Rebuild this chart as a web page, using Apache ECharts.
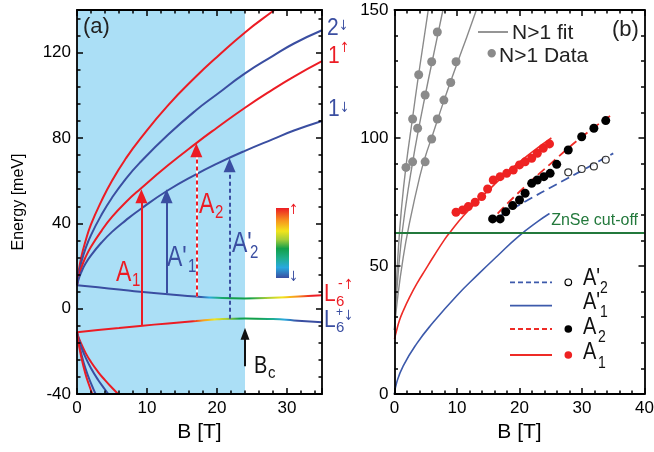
<!DOCTYPE html>
<html>
<head>
<meta charset="utf-8">
<script src="https://cdn.jsdelivr.net/npm/echarts@6/dist/echarts.min.js"></script>
<style>
html, body { margin: 0; padding: 0; background: #fff; }
#chart { width: 654px; height: 452px; }
</style>
</head>
<body>
<div id="chart"></div>
<script>
// ---------- panel (a): levels vs B ----------
const bLL    = [0, 0.2, 0.6, 1.2, 2, 3.5, 5, 7, 9, 13, 17, 20, 24, 28, 31, 35];
const e2Up   = [11, 16.5, 24, 31.5, 39.5, 50.5, 60, 70.5, 79.5, 95.3, 108.8, 118, 129.5, 139.5, 147, null];
const e2Down = [11, 15.5, 21.5, 28, 34.5, 44, 52, 61, 68.5, 81.5, 93, 100.5, 110.3, 118.5, 124.3, 130.5];
const e1Up   = [11, 14, 19, 24, 29, 36.5, 43, 50, 56, 67.2, 77.5, 84.8, 94.2, 102.8, 108.8, 116];
const e1Down = [11, 13.5, 17, 21, 25, 31, 36, 41.5, 46.5, 55.5, 63, 68, 74, 79.5, 83.5, 88];

// valence levels (go down steeply, leave the plot at -40)
const bVr1 = [0, 0.2, 0.6, 1.2, 1.8, 2.3];
const eVr1 = [-11, -15.5, -22.5, -30.5, -36.5, -41];
const bVb1 = [0, 0.2, 0.6, 1.2, 2, 2.8];
const eVb1 = [-11, -15, -21, -28, -35, -41];
const bVb2 = [0, 0.2, 0.6, 1.2, 2, 3, 4, 4.7];
const eVb2 = [-11, -13.7, -17.9, -22.7, -27.9, -33.3, -37.9, -41];
const bVr2 = [0, 0.2, 0.6, 1.2, 2, 3, 4, 5, 6];
const eVr2 = [-11, -13.2, -16.4, -20.6, -25, -29.6, -33.5, -37.1, -40.4];

// zero levels L6- / L6+
const bL6  = [0, 3, 6, 9, 13, 17, 20, 24, 28, 31, 35];
const eL6m = [11, 10, 9, 7.9, 6.8, 5.7, 5.1, 4.8, 5.1, 5.6, 6.3];
const eL6p = [-11, -10, -9.1, -8.1, -6.9, -5.8, -5, -4.6, -4.9, -5.5, -6.4];

// transitions A1, A'1, A2, A'2
const arrowB    = [9.2, 12.8, 17.05, 21.8];
const arrowFrom = [-7.8, 7.2, 5.7, -4.7];
const arrowTo   = [56, 56, 77.6, 70.5];
const shadeB    = [0, 24];
const bcFrom = -27, bcTo = -9;

// ---------- panel (b): transition energies ----------
const bFit1 = [0, 0.2, 0.6, 1.1, 1.84, 2.9, 3.87, 5.4];
const eFit1 = [25, 37, 56, 72, 89, 108, 125, 150];
const bFit2 = [0, 0.3, 1.0, 1.8, 2.9, 3.7, 4.9, 5.95, 6.85, 7.75];
const eFit2 = [25, 38, 58, 73.5, 90.5, 101.5, 116.5, 129, 139.5, 150];
const bFit3 = [0, 0.4, 1.4, 2.5, 4, 4.9, 6, 7.9, 9.9, 11.5, 13.1];
const eFit3 = [25, 35.5, 53.5, 68, 84.5, 92.5, 100.5, 114.5, 128.3, 139, 150];

const bN = [1.84, 2.9, 3.87, 2.9, 3.7, 4.9, 5.95, 6.85, 4.9, 5.95, 6.85, 7.9, 9.0, 9.85];
const eN = [88.5, 107.4, 124.7, 90.7, 103.8, 116.8, 129.8, 141.4, 90.7, 99.6, 107.4, 114.8, 121.7, 129.8];

const bA1 = [9.84, 10.9, 11.8, 12.9, 13.95, 14.9, 15.8, 16.9, 17.95, 19.0, 20.0, 20.9, 21.95, 22.85, 23.8, 24.8];
const eA1 = [71, 71.9, 73.2, 74.9, 77.1, 80.1, 83.6, 84.9, 86.2, 87.5, 89.5, 90.7, 92.1, 94.0, 96.0, 97.7];
const bA2 = [15.7, 16.9, 17.8, 18.9, 20.0, 20.9, 21.95, 22.85, 23.9, 24.9, 25.95, 27.8, 29.95, 31.9, 33.8];
const eA2 = [68.4, 68.4, 71.2, 73.6, 75.8, 78.4, 82.3, 83.6, 84.9, 86.2, 89.7, 95.3, 100.5, 103.8, 106.8];
const bA2p = [27.8, 29.95, 31.9, 33.8];
const eA2p = [86.6, 87.9, 88.9, 91.5];

const bFitA1 = [0, 0.3, 0.8, 1.4, 2.5, 3.6, 5, 6.2, 8, 8.9, 11, 13.7, 16.5, 19, 22, 25.1];
const eFitA1 = [21.5, 24.5, 28.8, 32.5, 38.2, 43.2, 48.8, 53.5, 60.3, 63.2, 69.5, 76.4, 83, 88.6, 94.5, 100];
const bFitA1p = [0, 0.35, 1.4, 3.5, 6.2, 10, 13.5, 16.5, 19.8, 23, 24.8];
const eFitA1p = [0, 4.5, 11, 19.5, 28, 38.5, 47, 54, 61.5, 67.5, 70.5];
const bFitA2 = [16.5, 20, 25, 30, 35];
const eFitA2 = [70.5, 79, 90, 100.5, 109.5];
const bFitA2p = [16.9, 21, 26, 30, 35];
const eFitA2p = [69.5, 75.3, 82, 87.3, 94];
const znseCut = 63;

// ---------- styling ----------
const FONT = '"Liberation Sans", Arial, Helvetica, sans-serif';
const RED = '#ec1c24', BLUE = '#3a4ea1', GRAY = '#8a8a8a', GREEN = '#23793c';
const RED_B = '#ee2b26', BLUE_B = '#3d5aab';
const headA = 3.3; // half arrow head, meV

const zip = (xs, ys) => xs.map((x, i) => [x, ys[i]]);

function curve(xs, ys, color, ax, extra) {
  return Object.assign({
    type: 'line', xAxisIndex: ax, yAxisIndex: ax,
    data: zip(xs, ys), symbol: 'none', smooth: 0.5,
    lineStyle: { color: color, width: 2 }, silent: true, z: 3
  }, extra || {});
}
function dots(xs, ys, color, size, extra) {
  return Object.assign({
    type: 'scatter', xAxisIndex: 2, yAxisIndex: 2, data: zip(xs, ys),
    symbolSize: size, itemStyle: { color: color, opacity: 1 }, silent: true, z: 5
  }, extra || {});
}
function hGrad(stops) {
  return { type: 'linear', x: 0, y: 0, x2: 1, y2: 0,
    colorStops: stops.map(s => ({ offset: s[0], color: s[1] })) };
}

const tickStyle = { color: '#000', width: 1.5 };
function xAx(grid, max, pos, name) {
  return {
    gridIndex: grid, type: 'value', min: 0, max: max, interval: 10, position: pos, z: 10,
    axisLine: { onZero: false, lineStyle: { color: '#000', width: 1.8 } },
    axisTick: { inside: true, length: 6, lineStyle: tickStyle },
    minorTick: { show: true, splitNumber: 5, length: 3.5, lineStyle: tickStyle },
    axisLabel: { show: pos === 'bottom', fontSize: 17, color: '#000', fontFamily: FONT, margin: 6, showMaxLabel: max === 40 },
    splitLine: { show: false },
    name: name, nameLocation: 'middle', nameGap: 24,
    nameTextStyle: { fontSize: 21, color: '#000', fontFamily: FONT }
  };
}
function yAx(grid, min, max, interval, pos, name) {
  return {
    gridIndex: grid, type: 'value', min: min, max: max, interval: interval, position: pos, z: 10,
    axisLine: { onZero: false, lineStyle: { color: '#000', width: 1.8 } },
    axisTick: { inside: true, length: 6, lineStyle: tickStyle },
    minorTick: { show: true, splitNumber: 5, length: 3.5, lineStyle: tickStyle },
    axisLabel: { show: pos === 'left', fontSize: 17, color: '#000', fontFamily: FONT, margin: 6, showMaxLabel: max === 150 },
    splitLine: { show: false },
    name: name, nameLocation: 'middle', nameGap: 50,
    nameTextStyle: { fontSize: 16, color: '#000', fontFamily: FONT }
  };
}

// arrows as markLines
const arrowColors = [RED, BLUE, RED, BLUE];
const arrowDashed = [false, false, true, true];
const arrowLines = [];
arrowB.forEach((b, i) => {
  if (arrowDashed[i] && arrowColors[i] === RED) {
    arrowLines.push([
      { coord: [b, arrowFrom[i]], symbol: 'none', lineStyle: { color: '#fff', width: 2, type: 'solid' } },
      { coord: [b, arrowTo[i] - headA], symbol: 'none' }
    ]);
  }
  arrowLines.push([
    { coord: [b, arrowFrom[i]], symbol: 'none',
      lineStyle: { color: arrowColors[i], width: 2, type: arrowDashed[i] ? [4, 3] : 'solid' } },
    { coord: [b, arrowTo[i] - headA], symbol: 'triangle', symbolSize: [12, 14] }
  ]);
});
arrowLines.push([
  { coord: [shadeB[1], bcFrom], symbol: 'none', lineStyle: { color: '#111', width: 2, type: 'solid' } },
  { coord: [shadeB[1], bcTo - 2.8], symbol: 'triangle', symbolSize: [9, 12] }
]);

const series = [
  // shaded B < Bc region
  curve(bL6, eL6m, 'rgba(0,0,0,0)', 0, {
    z: 1, lineStyle: { width: 0, opacity: 0 },
    markArea: { silent: true, itemStyle: { color: '#abdff6' },
      data: [[{ xAxis: shadeB[0] }, { xAxis: shadeB[1] }]] }
  }),
  curve(bLL, e2Up, RED, 0),
  curve(bLL, e2Down, BLUE, 0),
  curve(bLL, e1Up, RED, 0),
  curve(bLL, e1Down, BLUE, 0),
  curve(bVr2, eVr2, RED, 0),
  curve(bVb2, eVb2, BLUE, 0),
  curve(bVb1, eVb1, BLUE, 0),
  curve(bVr1, eVr1, RED, 0),
  curve(bL6, eL6m, null, 0, { lineStyle: { width: 2, color: hGrad([
    [0, BLUE], [0.5, BLUE], [0.54, '#29a8df'], [0.57, '#1fae8e'], [0.62, '#12a04a'], [0.70, '#12a04a'],
    [0.77, '#a6ce39'], [0.83, '#f2e41c'], [0.89, '#f7941d'], [0.95, RED], [1, RED]]) } }),
  curve(bL6, eL6p, null, 0, { lineStyle: { width: 2, color: hGrad([
    [0, RED], [0.47, RED], [0.51, '#f7941d'], [0.56, '#f2e41c'], [0.61, '#a6ce39'], [0.66, '#12a04a'],
    [0.73, '#12a04a'], [0.79, '#1fae8e'], [0.84, '#29a8df'], [0.89, BLUE], [1, BLUE]]) },
    markLine: { silent: true, animation: false, symbol: ['none', 'triangle'], label: { show: false },
      emphasis: { disabled: true }, data: arrowLines }
  }),

  // panel (b)
  curve(bFit1, eFit1, GRAY, 2, { lineStyle: { color: GRAY, width: 1.4 } }),
  curve(bFit2, eFit2, GRAY, 2, { lineStyle: { color: GRAY, width: 1.4 } }),
  curve(bFit3, eFit3, GRAY, 2, { lineStyle: { color: GRAY, width: 1.4 },
    markLine: { silent: true, animation: false, symbol: 'none', label: { show: false },
      lineStyle: { color: GREEN, width: 2, type: 'solid' }, data: [{ yAxis: znseCut }] } }),
  curve(bFitA1, eFitA1, RED_B, 2, { lineStyle: { color: RED_B, width: 1.6 } }),
  curve(bFitA1p, eFitA1p, BLUE_B, 2, { lineStyle: { color: BLUE_B, width: 1.6 } }),
  curve(bFitA2, eFitA2, RED_B, 2, { lineStyle: { color: RED_B, width: 1.8, type: [9, 5] } }),
  curve(bFitA2p, eFitA2p, BLUE_B, 2, { lineStyle: { color: BLUE_B, width: 1.8, type: [9, 5] } }),
  dots(bN, eN, GRAY, 9),
  dots(bA1, eA1, '#ee2222', 9),
  dots(bA2, eA2, '#000', 9),
  dots(bA2p, eA2p, '#fff', 7, { itemStyle: { color: '#fff', borderColor: '#000', borderWidth: 1.2 } })
];

// ---------- text and legend graphics ----------
function t(x, y, s, color, size, sy, align) {
  return { type: 'text', x: x, y: y, z: 50, silent: true, scaleY: sy || 1,
    style: { text: s, fill: color, font: size + 'px ' + FONT,
      textAlign: align || 'left', align: align || 'left',
      textVerticalAlign: 'middle', verticalAlign: 'middle' } };
}
function ln(x1, x2, y, color, dash) {
  return { type: 'line', z: 50, silent: true, shape: { x1: x1, y1: y, x2: x2, y2: y },
    style: { stroke: color, lineWidth: 1.8, lineDash: dash || null } };
}
function dot(cx, cy, r, fill, stroke) {
  return { type: 'circle', z: 50, silent: true, shape: { cx: cx, cy: cy, r: r },
    style: { fill: fill, stroke: stroke || null, lineWidth: 1.2 } };
}
const ARW = '14px "DejaVu Sans"';
function arw(x, y, s, color) {
  return { type: 'text', x: x, y: y, z: 50, silent: true, scaleX: 0.8,
    style: { text: s, fill: color, font: ARW, align: 'left', textAlign: 'left',
      verticalAlign: 'middle', textVerticalAlign: 'middle' } };
}

const graphics = [
  t(83, 27, '(a)', '#222', 22),
  t(116, 273, 'A', RED, 23, 1.25), t(132, 281, '1', RED, 15, 1.2),
  t(167, 258, "A'", BLUE, 23, 1.25), t(188, 267, '1', BLUE, 15, 1.2),
  t(199, 205, 'A', RED, 23, 1.25), t(215, 213, '2', RED, 15, 1.2),
  t(232, 244, "A'", BLUE, 23, 1.25), t(250, 253, '2', BLUE, 15, 1.2),

  t(327, 29, '2', BLUE, 21, 1.1), arw(339, 26, '↓', BLUE),
  t(328, 57, '1', RED, 21, 1.1), arw(340, 48, '↑', RED),
  t(328, 110, '1', BLUE, 21, 1.1), arw(340, 108, '↓', BLUE),
  t(324, 295, 'L', RED, 21, 1.1), t(336, 302, '6', RED, 15), t(338, 284, '-', RED, 14), arw(344, 285, '↑', RED),
  t(324, 321, 'L', BLUE, 21, 1.1), t(336, 328, '6', BLUE, 15), t(336, 313, '+', BLUE, 12), arw(344, 316, '↓', BLUE),

  t(254, 367, 'B', '#111', 20, 1.15), t(268, 373, 'c', '#111', 15, 1.1),

  { type: 'rect', z: 50, silent: true, shape: { x: 276, y: 208, width: 13, height: 70 },
    style: { fill: { type: 'linear', x: 0, y: 0, x2: 0, y2: 1, colorStops: [
      { offset: 0, color: RED }, { offset: 0.18, color: '#f7941d' }, { offset: 0.33, color: '#f2e41c' },
      { offset: 0.45, color: '#a6ce39' }, { offset: 0.58, color: '#12a04a' }, { offset: 0.72, color: '#1fae8e' },
      { offset: 0.85, color: '#29a8df' }, { offset: 1, color: BLUE }] } } },
  arw(289, 210, '↑', RED), arw(289, 277, '↓', BLUE),

  // panel (b)
  t(612, 30, '(b)', '#222', 22),
  ln(478, 508, 32, GRAY), t(512, 33, 'N>1 fit', '#222', 21),
  dot(491.7, 53.3, 4.2, GRAY), t(499, 56, 'N>1 Data', '#222', 21),
  t(638, 221, 'ZnSe cut-off', GREEN, 16, 1, 'right'),

  ln(510, 552, 282.3, BLUE_B, [5, 3]), dot(568.3, 282.3, 3.3, '#fff', '#000'),
  t(583, 278.5, "A'", '#111', 20, 1.15), t(600, 289, '2', '#111', 14, 1.15),
  ln(510, 552, 305.7, BLUE_B),
  t(583, 302.5, "A'", '#111', 20, 1.15), t(600, 313, '1', '#111', 14, 1.15),
  ln(510, 552, 329, RED_B, [5, 3]), dot(568.3, 329, 3.8, '#000'),
  t(583, 327.5, 'A', '#111', 20, 1.15), t(598, 338, '2', '#111', 14, 1.15),
  ln(510, 552, 355, RED_B), dot(568.3, 355, 3.8, '#ee2222'),
  t(583, 353, 'A', '#111', 20, 1.15), t(598, 364, '1', '#111', 14, 1.15)
];

const chart = echarts.init(document.getElementById('chart'), null, { renderer: 'canvas' });
chart.setOption({
  animation: false,
  backgroundColor: '#fff',
  grid: [
    { left: 77, top: 10, width: 245, height: 384, outerBoundsMode: 'none' },
    { left: 394.5, top: 10, width: 250, height: 384, outerBoundsMode: 'none' }
  ],
  xAxis: [
    xAx(0, 35, 'bottom', 'B [T]'), xAx(0, 35, 'top', ''),
    xAx(1, 40, 'bottom', 'B [T]'), xAx(1, 40, 'top', '')
  ],
  yAxis: [
    yAx(0, -40, 140, 40, 'left', 'Energy [meV]'), yAx(0, -40, 140, 40, 'right', ''),
    yAx(1, 0, 150, 50, 'left', ''), yAx(1, 0, 150, 50, 'right', '')
  ],
  series: series,
  graphic: graphics
});
</script>
</body>
</html>
